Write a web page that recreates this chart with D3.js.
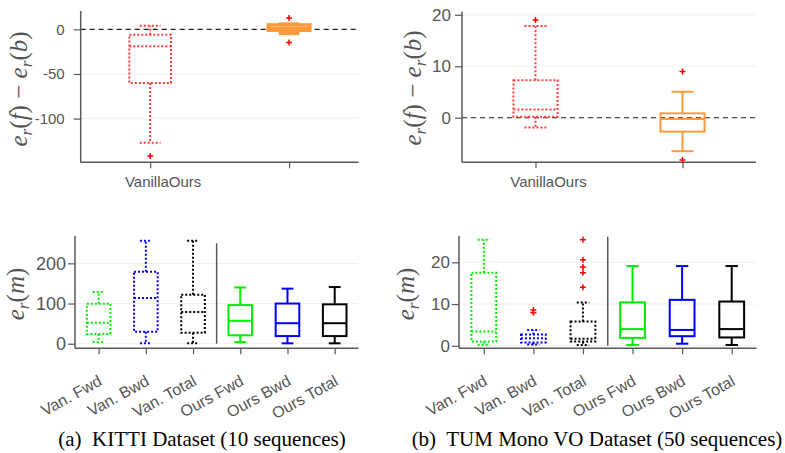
<!DOCTYPE html>
<html>
<head>
<meta charset="utf-8">
<script src="https://cdn.jsdelivr.net/npm/d3@7"></script>
<style>
  body { margin: 0; background: #fff; }
  svg { display: block; }
</style>
</head>
<body>
<svg id="chart" width="785" height="453"></svg>
<script>
// ---- data (box = [lower whisker, q1, median, q3, upper whisker]) ----
var topCats = ["Vanilla", "Ours"]
var kittiDiffBoxes = [[-127, -60, -19, -6, 4], [-4.5, -1, 1, 5, 6]]
var kittiDiffOutliers = [[-142], [12.7, -14.6]]
var kittiDiffTicks = [0, -50, -100]

var tumDiffBoxes = [[-1.9, 0.2, 1.6, 7.3, 17.8], [-6.5, -2.7, -0.25, 0.85, 5.05]]
var tumDiffOutliers = [[19], [9, -8.2]]
var tumDiffTicks = [0, 10, 20]

var bottomCats = ["Van. Fwd", "Van. Bwd", "Van. Total", "Ours Fwd", "Ours Bwd", "Ours Total"]
var kittiErrBoxes = [
  [4, 24, 52, 99.5, 128.6],
  [1, 30, 114, 179, 256],
  [1, 27, 79, 122, 256],
  [4, 21, 57, 96, 140],
  [1, 19, 51, 100, 137],
  [1, 19, 51, 98, 141]
]
var kittiErrOutliers = [[], [], [], [], [], []]
var kittiErrTicks = [0, 100, 200]

var tumErrBoxes = [
  [0.2, 1.0, 3.4, 17.5, 25.4],
  [0.3, 0.8, 1.8, 2.7, 3.8],
  [0.2, 1.0, 1.7, 5.8, 10.4],
  [0.2, 1.9, 4.0, 10.4, 19.1],
  [0.5, 2.3, 3.8, 11.0, 19.1],
  [0.2, 2.0, 4.0, 10.6, 19.1]
]
var tumErrOutliers = [[], [8.6, 7.9], [25.4, 20.6, 18.9, 17.5, 14.0], [], [], []]
var tumErrTicks = [0, 10, 20]

var captions = ["(a)  KITTI Dataset (10 sequences)", "(b)  TUM Mono VO Dataset (50 sequences)"]

// ---- styles ----
var topColors = ["#ff3b3b", "#ff9a3c"]
var topDotted = [true, false]
var bottomColors = ["#00ee00", "#0000ff", "#000000", "#00ee00", "#0000ff", "#000000"]
var bottomDotted = [true, true, true, false, false, false]
var axisGray = "#595959"
var textGray = "#555555"
var sans = "'Liberation Sans', Arial, sans-serif"

var svg = d3.select("#chart")

function drawPanel(p) {
  var g = svg.append("g")
  var n = p.cats.length
  var x = d3.scaleLinear().domain([0.5, n + 0.5]).range([p.left, p.right])
  var y = d3.scaleLinear().domain(p.yDomain).range([p.bottom, p.top])

  // grid
  g.selectAll(".grid").data(p.ticks).enter().append("line")
    .attr("x1", p.left).attr("x2", p.right)
    .attr("y1", function(d){ return y(d) }).attr("y2", function(d){ return y(d) })
    .attr("stroke", "#efefef").attr("stroke-width", 1)

  if (p.zeroLine) {
    g.append("line").attr("x1", p.left).attr("x2", p.right)
      .attr("y1", y(0)).attr("y2", y(0))
      .attr("stroke", "#222").attr("stroke-width", 1.2).attr("stroke-dasharray", "5,4")
  }

  if (p.separator) {
    g.append("line").attr("x1", x(3.5)).attr("x2", x(3.5))
      .attr("y1", y(0)).attr("y2", p.sepTop)
      .attr("stroke", axisGray).attr("stroke-width", 1.5)
  }

  // y axis
  var yAxis = d3.axisLeft(y).tickValues(p.ticks).tickSize(7).tickPadding(p.tickPad)
    .tickFormat(function(d){ return String(d) })
  var ya = g.append("g").attr("transform", "translate(" + p.left + ",0)").call(yAxis)
  ya.select(".domain").remove()
  ya.append("line").attr("x1", 0).attr("x2", 0).attr("y1", p.top).attr("y2", p.bottom)
    .attr("stroke", axisGray).attr("stroke-width", 1.5)
  ya.selectAll(".tick line").attr("stroke", axisGray).attr("stroke-width", 1.2)
  ya.selectAll(".tick text").attr("fill", textGray)
    .style("font-family", sans).style("font-size", p.tickSize + "px")

  // x axis
  var xAxis = d3.axisBottom(x).tickValues(d3.range(1, n + 1)).tickSize(6).tickFormat("")
  var xa = g.append("g").attr("transform", "translate(0," + p.bottom + ")").call(xAxis)
  xa.select(".domain").remove()
  xa.append("line").attr("x1", p.left).attr("x2", p.right).attr("y1", 0).attr("y2", 0)
    .attr("stroke", axisGray).attr("stroke-width", 1.5)
  xa.selectAll(".tick line").attr("stroke", axisGray).attr("stroke-width", 1.2)

  // x labels
  if (p.joinLabels) {
    g.append("text").attr("x", x(1) + 13).attr("y", p.bottom + 25)
      .attr("text-anchor", "middle").attr("fill", textGray)
      .style("font-family", sans).style("font-size", "15px")
      .text(p.cats.join(""))
  } else {
    g.selectAll(".xl").data(p.cats).enter().append("text")
      .attr("transform", function(d, i){ return "translate(" + (x(i + 1) - 1) + "," + (p.bottom + 26) + ") rotate(-29)" })
      .attr("text-anchor", "end").attr("dy", "0.71em").attr("fill", textGray)
      .style("font-family", sans).style("font-size", "16px")
      .text(function(d){ return d })
  }

  // boxes
  var bw = p.boxW, cw = p.capW
  var boxes = g.selectAll(".box").data(p.boxes).enter().append("g")
    .attr("fill", "none")
    .attr("stroke", function(d, i){ return p.colors[i] })
    .attr("stroke-width", function(d, i){ return p.widths[i] })
    .attr("stroke-dasharray", function(d, i){ return p.dotted[i] ? "2,2" : null })

  boxes.append("line").attr("x1", function(d, i){ return x(i + 1) }).attr("x2", function(d, i){ return x(i + 1) })
    .attr("y1", function(d){ return y(d[3]) }).attr("y2", function(d){ return y(d[4]) })
  boxes.append("line").attr("x1", function(d, i){ return x(i + 1) }).attr("x2", function(d, i){ return x(i + 1) })
    .attr("y1", function(d){ return y(d[1]) }).attr("y2", function(d){ return y(d[0]) })
  boxes.append("line").attr("x1", function(d, i){ return x(i + 1 - cw / 2) }).attr("x2", function(d, i){ return x(i + 1 + cw / 2) })
    .attr("y1", function(d){ return y(d[4]) }).attr("y2", function(d){ return y(d[4]) })
  boxes.append("line").attr("x1", function(d, i){ return x(i + 1 - cw / 2) }).attr("x2", function(d, i){ return x(i + 1 + cw / 2) })
    .attr("y1", function(d){ return y(d[0]) }).attr("y2", function(d){ return y(d[0]) })
  boxes.append("rect").attr("x", function(d, i){ return x(i + 1 - bw / 2) })
    .attr("width", function(d, i){ return x(i + 1 + bw / 2) - x(i + 1 - bw / 2) })
    .attr("y", function(d){ return y(d[3]) })
    .attr("height", function(d){ return y(d[1]) - y(d[3]) })
  boxes.append("line").attr("x1", function(d, i){ return x(i + 1 - bw / 2) }).attr("x2", function(d, i){ return x(i + 1 + bw / 2) })
    .attr("y1", function(d){ return y(d[2]) }).attr("y2", function(d){ return y(d[2]) })

  // outliers
  var pts = []
  p.outliers.forEach(function(arr, i){ arr.forEach(function(v){ pts.push({ i: i, v: v }) }) })
  g.selectAll(".out").data(pts).enter().append("path")
    .attr("d", function(d){
      var cx = x(d.i + 1), cy = y(d.v), s = 3
      return "M" + (cx - s) + "," + cy + "H" + (cx + s) + "M" + cx + "," + (cy - s) + "V" + (cy + s)
    })
    .attr("stroke", "#ff0000").attr("stroke-width", 1.5)

  // y label (math)
  var lab = g.append("text")
    .attr("transform", "translate(" + p.labX + "," + p.labY + ") rotate(-90)")
    .attr("text-anchor", "middle").attr("fill", textGray)
    .style("font-family", "'Liberation Serif', 'DejaVu Serif', serif").style("font-size", p.labSize + "px")
  p.label.forEach(function(part){
    var t = lab.append("tspan").text(part.t)
    if (part.it) t.style("font-style", "italic")
    if (part.sub) t.attr("baseline-shift", "-25%").style("font-size", (p.labSize * 0.7) + "px")
  })
}

var diffLabel = [
  { t: "e", it: true }, { t: "r", it: true, sub: true }, { t: "(" }, { t: "f", it: true }, { t: ") \u2212 " },
  { t: "e", it: true }, { t: "r", it: true, sub: true }, { t: "(" }, { t: "b", it: true }, { t: ")" }
]
var errLabel = [{ t: "e", it: true }, { t: "r", it: true, sub: true }, { t: "(" }, { t: "m", it: true }, { t: ")" }]

drawPanel({
  cats: topCats, boxes: kittiDiffBoxes, outliers: kittiDiffOutliers, ticks: kittiDiffTicks,
  yDomain: [-149, 20.6], left: 80.7, right: 358.5, top: 11, bottom: 162.3,
  boxW: 0.3, capW: 0.15, colors: topColors, dotted: topDotted, widths: [2, 3.5],
  tickSize: 15, tickPad: 9,
  zeroLine: true, joinLabels: true, label: diffLabel, labX: 27, labY: 89, labSize: 25
})
drawPanel({
  cats: topCats, boxes: tumDiffBoxes, outliers: tumDiffOutliers, ticks: tumDiffTicks,
  yDomain: [-8.66, 20.6], left: 462, right: 756, top: 11.7, bottom: 162.3,
  boxW: 0.3, capW: 0.15, colors: topColors, dotted: topDotted, widths: [2, 2],
  tickSize: 17, tickPad: 4,
  zeroLine: true, joinLabels: true, label: diffLabel, labX: 421, labY: 88, labSize: 25
})
drawPanel({
  cats: bottomCats, boxes: kittiErrBoxes, outliers: kittiErrOutliers, ticks: kittiErrTicks,
  yDomain: [-11.4, 268], left: 75, right: 358.3, top: 236, bottom: 348.3,
  boxW: 0.5, capW: 0.25, colors: bottomColors, dotted: bottomDotted, widths: [2, 2, 2, 2, 2, 2],
  tickSize: 18, tickPad: 2,
  separator: true, sepTop: 243.3, label: errLabel, labX: 24, labY: 294, labSize: 25
})
drawPanel({
  cats: bottomCats, boxes: tumErrBoxes, outliers: tumErrOutliers, ticks: tumErrTicks,
  yDomain: [-0.6, 26.3], left: 459, right: 756.5, top: 236, bottom: 348.3,
  boxW: 0.5, capW: 0.25, colors: bottomColors, dotted: bottomDotted, widths: [2, 2, 2, 2, 2, 2],
  tickSize: 17, tickPad: 2,
  separator: true, sepTop: 236.7, label: errLabel, labX: 414, labY: 294, labSize: 25
})

// captions
svg.selectAll(".cap").data(captions).enter().append("text")
  .attr("x", function(d, i){ return i === 0 ? 202 : 597 }).attr("y", 446)
  .attr("text-anchor", "middle").attr("fill", "#000")
  .style("font-family", "'Liberation Serif', 'Times New Roman', serif").style("font-size", "21px")
  .style("white-space", "pre")
  .text(function(d){ return d })
</script>
</body>
</html>
